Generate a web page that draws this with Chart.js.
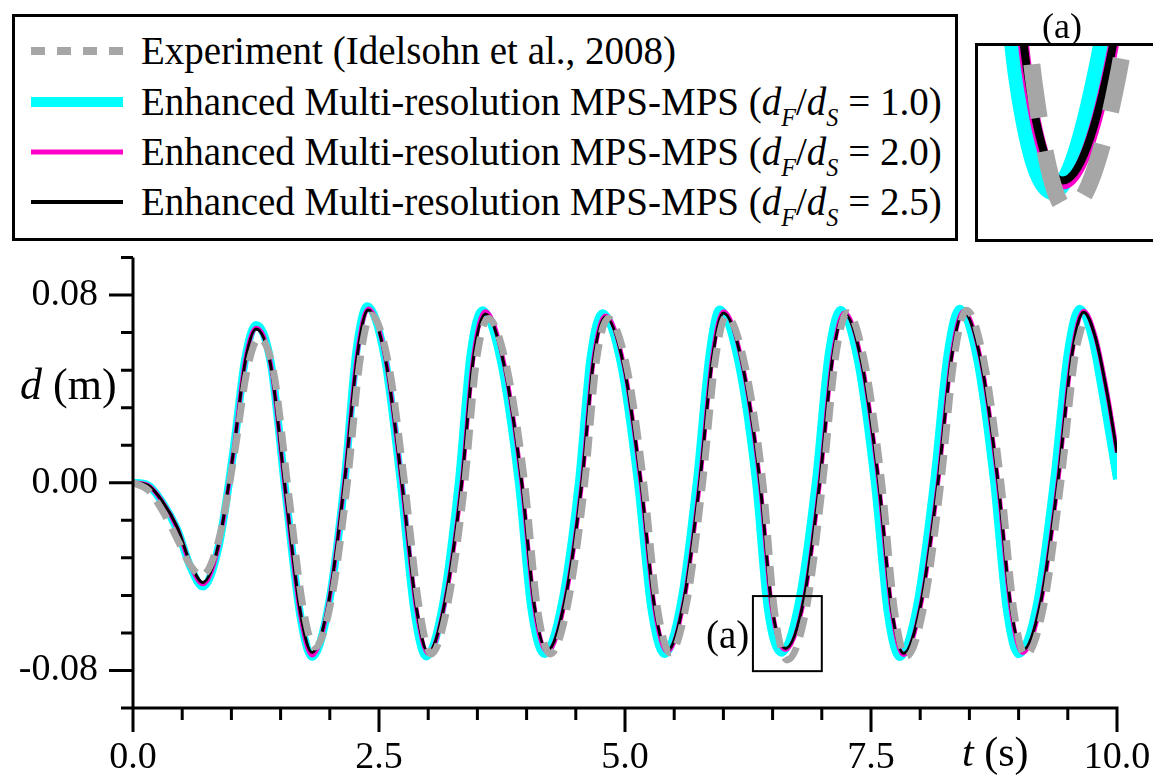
<!DOCTYPE html>
<html>
<head>
<meta charset="utf-8">
<script src="https://cdn.jsdelivr.net/npm/chart.js@4.4.0/dist/chart.umd.min.js"></script>
<style>
  body { margin: 0; background: #fff; }
  #page { position: relative; width: 1153px; height: 777px; overflow: hidden;
          font-family: "Liberation Serif", "Times New Roman", serif; color: #000; }
  #dispChart { position: absolute; left: 0; top: 0; }
  #legend { position: absolute; left: 12px; top: 14px; width: 946px; height: 227px;
            border: 3px solid #000; box-sizing: border-box; background: #fff; }
  .row { position: absolute; left: 0; width: 930px; height: 40px; font-size: 39px;
         line-height: 40px; white-space: nowrap; }
  .row svg { position: absolute; left: 16px; }
  .row .lbl { position: absolute; left: 126px; top: 0; }
  .row sub { font-size: 0.62em; font-style: italic; vertical-align: -0.45em; line-height: 0; }
  #inset { position: absolute; left: 975px; top: 43px; width: 200px; height: 199px;
           border: 3px solid #000; box-sizing: border-box; background: #fff; }
  #insetChart { position: absolute; left: 0; top: 0; }
  .txt { position: absolute; white-space: nowrap; line-height: 1; }
</style>
</head>
<body>
<div id="page">
  <canvas id="dispChart" width="1153" height="777"></canvas>

  <div id="legend">
    <div class="row" style="top:14px">
      <svg width="92" height="10" style="top:15px"><line x1="0" y1="5" x2="92" y2="5" stroke="#a6a6a6" stroke-width="8" stroke-dasharray="14 12"/></svg>
      <span class="lbl">Experiment (Idelsohn et al., 2008)</span>
    </div>
    <div class="row" style="top:65px">
      <svg width="92" height="10" style="top:15px"><line x1="0" y1="5" x2="92" y2="5" stroke="#00ffff" stroke-width="10"/></svg>
      <span class="lbl">Enhanced Multi-resolution MPS-MPS (<i>d</i><sub>F</sub>/<i>d</i><sub>S</sub> = 1.0)</span>
    </div>
    <div class="row" style="top:115px">
      <svg width="92" height="10" style="top:15px"><line x1="0" y1="5" x2="92" y2="5" stroke="#ff00cc" stroke-width="5"/></svg>
      <span class="lbl">Enhanced Multi-resolution MPS-MPS (<i>d</i><sub>F</sub>/<i>d</i><sub>S</sub> = 2.0)</span>
    </div>
    <div class="row" style="top:165px">
      <svg width="92" height="10" style="top:15px"><line x1="0" y1="5" x2="92" y2="5" stroke="#000" stroke-width="4"/></svg>
      <span class="lbl">Enhanced Multi-resolution MPS-MPS (<i>d</i><sub>F</sub>/<i>d</i><sub>S</sub> = 2.5)</span>
    </div>
  </div>

  <div class="txt" style="left:1042px; top:8px; font-size:36px">(a)</div>
  <div id="inset"><canvas id="insetChart" width="180" height="193"></canvas></div>

  <div class="txt" style="left:706px; top:615px; font-size:39px">(a)</div>
  <div class="txt" style="left:20px; top:363px; font-size:44px"><i>d</i> (m)</div>
  <div class="txt" style="left:962px; top:731px; font-size:42px"><i>t</i> (s)</div>
</div>

<script>
// time (s) and gate displacement d (m)
const tFine = [0, 0.15, 0.30, 0.45, 0.58, 0.71, 0.87, 1.02, 1.14, 1.25, 1.40, 1.55, 1.70,
  1.82, 1.99, 2.15, 2.28, 2.39, 2.57, 2.73, 2.88, 3.00, 3.17, 3.34, 3.46, 3.58, 3.77, 3.95,
  4.08, 4.21, 4.39, 4.56, 4.68, 4.80, 4.99, 5.16, 5.30, 5.43, 5.60, 5.76, 5.89, 6.00, 6.19,
  6.37, 6.49, 6.63, 6.82, 6.98, 7.11, 7.23, 7.41, 7.58, 7.71, 7.83, 8.01, 8.18, 8.32, 8.44,
  8.62, 8.79, 8.92, 9.04, 9.23, 9.40, 9.54, 9.66, 9.78, 9.90, 10.0];

const dRatio25 = [0.0000, -0.0010, -0.0080, -0.0190, -0.0340, -0.0425, -0.0263, 0.0130,
  0.0515, 0.0655, 0.0500, -0.0040, -0.0550, -0.0723, -0.0504, 0.0007, 0.0546, 0.0736,
  0.0517, 0.0007, -0.0533, -0.0723, -0.0507, -0.0002, 0.0532, 0.0719, 0.0504, 0.0003,
  -0.0528, -0.0714, -0.0501, -0.0004, 0.0521, 0.0706, 0.0493, 0.0006, -0.0529, -0.0714,
  -0.0498, 0.0005, 0.0536, 0.0723, 0.0509, 0.0009, -0.0520, -0.0706, -0.0492, 0.0007,
  0.0534, 0.0719, 0.0502, -0.0004, -0.0539, -0.0727, -0.0509, 0.0000, 0.0538, 0.0727,
  0.0511, 0.0006, -0.0527, -0.0714, -0.0498, 0.0007, 0.0540, 0.0727, 0.0620, 0.0380, 0.0128];

const dRatio20 = [0.0000, -0.0010, -0.0082, -0.0195, -0.0348, -0.0432, -0.0268, 0.0128,
  0.0518, 0.0660, 0.0505, -0.0042, -0.0560, -0.0735, -0.0510, 0.0005, 0.0552, 0.0742,
  0.0522, 0.0005, -0.0538, -0.0728, -0.0510, -0.0004, 0.0540, 0.0730, 0.0510, 0.0001,
  -0.0533, -0.0720, -0.0504, -0.0006, 0.0525, 0.0712, 0.0497, 0.0004, -0.0533, -0.0720,
  -0.0502, 0.0003, 0.0542, 0.0730, 0.0513, 0.0007, -0.0525, -0.0712, -0.0496, 0.0005,
  0.0538, 0.0724, 0.0506, -0.0006, -0.0544, -0.0733, -0.0513, -0.0002, 0.0542, 0.0732,
  0.0514, 0.0004, -0.0533, -0.0724, -0.0503, 0.0005, 0.0544, 0.0732, 0.0624, 0.0383, 0.0130];

const tRatio10 = [0, 0.15, 0.30, 0.45, 0.58, 0.71, 0.87, 1.02, 1.14, 1.25, 1.40, 1.55, 1.70,
  1.82, 1.99, 2.15, 2.27, 2.38, 2.56, 2.72, 2.86, 2.98, 3.15, 3.31, 3.43, 3.55, 3.74, 3.92,
  4.05, 4.18, 4.36, 4.53, 4.65, 4.77, 4.96, 5.13, 5.27, 5.40, 5.57, 5.73, 5.86, 5.96, 6.15,
  6.33, 6.45, 6.59, 6.77, 6.94, 7.07, 7.19, 7.37, 7.54, 7.67, 7.79, 7.97, 8.14, 8.28, 8.40,
  8.58, 8.75, 8.88, 9.00, 9.19, 9.36, 9.50, 9.62, 9.74, 9.87, 10.0];

const dRatio10 = [0.0000, -0.0010, -0.0085, -0.0200, -0.0355, -0.0442, -0.0272, 0.0135,
  0.0528, 0.0672, 0.0512, -0.0040, -0.0565, -0.0742, -0.0517, 0.0007, 0.0560, 0.0752,
  0.0530, 0.0007, -0.0546, -0.0740, -0.0520, -0.0002, 0.0545, 0.0735, 0.0516, 0.0003,
  -0.0541, -0.0730, -0.0513, -0.0004, 0.0534, 0.0722, 0.0505, 0.0006, -0.0542, -0.0730,
  -0.0510, 0.0005, 0.0549, 0.0738, 0.0521, 0.0009, -0.0533, -0.0724, -0.0504, 0.0007,
  0.0547, 0.0736, 0.0514, -0.0004, -0.0552, -0.0743, -0.0521, 0.0000, 0.0551, 0.0742,
  0.0523, 0.0006, -0.0540, -0.0730, -0.0510, 0.0007, 0.0553, 0.0742, 0.0630, 0.0340, 0.0015];

const tExp = [0, 0.15, 0.30, 0.45, 0.58, 0.70, 0.87, 1.03, 1.16, 1.28, 1.43, 1.58, 1.73,
  1.85, 2.02, 2.18, 2.31, 2.42, 2.60, 2.76, 2.91, 3.03, 3.20, 3.37, 3.49, 3.61, 3.80, 3.98,
  4.11, 4.24, 4.42, 4.59, 4.71, 4.83, 5.02, 5.19, 5.33, 5.46, 5.63, 5.79, 5.92, 6.03, 6.22,
  6.40, 6.52, 6.65, 6.85, 7.01, 7.14, 7.26, 7.44, 7.61, 7.74, 7.86, 8.04, 8.21, 8.35, 8.47,
  8.65, 8.82, 8.95, 9.07, 9.26, 9.43, 9.57, 9.65];

const dExp = [0.0000, -0.0030, -0.0120, -0.0240, -0.0350, -0.0395, -0.0245, 0.0120, 0.0480,
  0.0615, 0.0470, -0.0040, -0.0535, -0.0700, -0.0490, 0.0005, 0.0530, 0.0715, 0.0500,
  0.0000, -0.0535, -0.0730, -0.0515, -0.0005, 0.0520, 0.0700, 0.0490, 0.0000, -0.0535,
  -0.0730, -0.0515, -0.0005, 0.0520, 0.0700, 0.0490, 0.0000, -0.0535, -0.0725, -0.0505,
  0.0005, 0.0530, 0.0710, 0.0500, 0.0005, -0.0550, -0.0755, -0.0520, 0.0005, 0.0535,
  0.0725, 0.0505, -0.0005, -0.0550, -0.0740, -0.0520, 0.0000, 0.0545, 0.0735, 0.0515,
  0.0000, -0.0540, -0.0735, -0.0515, 0.0005, 0.0530, 0.0680];

const xTicks = [0, 2.5, 5, 7.5, 10];
const yTicks = [-0.08, 0, 0.08];
const xRange = [0, 10];
const yRange = [-0.096, 0.096];
// window (a), shown enlarged in the inset
const zoomT = [6.30, 7.00];
const zoomD = [-0.0803, -0.0483];

Chart.defaults.font.family = '"Liberation Serif", "Times New Roman", serif';
Chart.defaults.color = '#000';

function pts(ts, ds) {
  return ts.map((t, i) => ({ x: t, y: ds[i] }));
}

function seriesSets(w) {
  return [
    { label: 'Experiment (Idelsohn et al., 2008)', data: pts(tExp, dExp),
      borderColor: '#a6a6a6', borderWidth: w.exp, borderDash: w.dash, order: 0 },
    { label: 'dF/dS = 2.5', data: pts(tFine, dRatio25), borderColor: '#000000', borderWidth: w.r25, order: 1 },
    { label: 'dF/dS = 2.0', data: pts(tFine, dRatio20), borderColor: '#ff00cc', borderWidth: w.r20, order: 2 },
    { label: 'dF/dS = 1.0', data: pts(tRatio10, dRatio10), borderColor: '#00ffff', borderWidth: w.r10, order: 3 }
  ].map(s => Object.assign(s, {
    pointRadius: 0, fill: false, cubicInterpolationMode: 'monotone',
    borderCapStyle: 'butt', borderJoinStyle: 'round'
  }));
}

// axis lines, major/minor ticks and the (a) frame
const axisPlugin = {
  id: 'axisPlugin',
  afterDraw(chart) {
    const ctx = chart.ctx;
    const x = chart.scales.x, y = chart.scales.y;
    const x0 = x.getPixelForValue(xRange[0]), x1 = x.getPixelForValue(xRange[1]);
    const yTop = y.getPixelForValue(yRange[1]), yBot = y.getPixelForValue(yRange[0]);
    ctx.save();
    ctx.strokeStyle = '#000';
    ctx.lineWidth = 3;
    ctx.beginPath();
    ctx.moveTo(x0, yTop);
    ctx.lineTo(x0, yBot);
    ctx.moveTo(x0, yBot);
    ctx.lineTo(x1 + 1.5, yBot);
    for (let i = 0; i <= 20; i++) {
      const px = x.getPixelForValue(i * 0.5);
      ctx.moveTo(px, yBot);
      ctx.lineTo(px, yBot + (i % 5 === 0 ? 24 : 12));
    }
    for (let i = 0; i <= 12; i++) {
      const py = y.getPixelForValue(yRange[0] + i * 0.016);
      ctx.moveTo(x0, py);
      ctx.lineTo(x0 - (i % 5 === 1 ? 24 : 12), py);
    }
    ctx.stroke();

    const bx0 = x.getPixelForValue(zoomT[0]), bx1 = x.getPixelForValue(zoomT[1]);
    const by0 = y.getPixelForValue(zoomD[1]), by1 = y.getPixelForValue(zoomD[0]);
    ctx.lineWidth = 2;
    ctx.strokeRect(bx0, by0, bx1 - bx0, by1 - by0);
    ctx.restore();
  }
};

new Chart(document.getElementById('dispChart'), {
  type: 'line',
  data: { datasets: seriesSets({ exp: 7, dash: [20, 11], r25: 3, r20: 4.5, r10: 8 }) },
  options: {
    responsive: false,
    animation: false,
    events: [],
    layout: { padding: { top: 257.5, right: 36, bottom: 0, left: 0 } },
    plugins: { legend: { display: false }, tooltip: { enabled: false } },
    scales: {
      x: {
        type: 'linear', min: xRange[0], max: xRange[1],
        afterFit: s => { s.height = 69; s.paddingLeft = 0; s.paddingRight = 0; },
        afterBuildTicks: s => { s.ticks = xTicks.map(v => ({ value: v })); },
        grid: { display: false }, border: { display: false },
        ticks: { padding: 19, maxRotation: 0, autoSkip: false, font: { size: 38 },
                 callback: v => v.toFixed(1) }
      },
      y: {
        type: 'linear', min: yRange[0], max: yRange[1],
        afterFit: s => { s.width = 133; s.paddingTop = 0; s.paddingBottom = 0; },
        afterBuildTicks: s => { s.ticks = yTicks.map(v => ({ value: v })); },
        grid: { display: false }, border: { display: false },
        ticks: { padding: 27, autoSkip: false, font: { size: 38 },
                 callback: v => v.toFixed(2) }
      }
    }
  },
  plugins: [axisPlugin]
});

new Chart(document.getElementById('insetChart'), {
  type: 'line',
  data: { datasets: seriesSets({ exp: 17, dash: [54, 34], r25: 8, r20: 11, r10: 17 }) },
  options: {
    responsive: false,
    animation: false,
    events: [],
    layout: { padding: 0 },
    plugins: { legend: { display: false }, tooltip: { enabled: false } },
    scales: {
      x: { type: 'linear', display: false, min: zoomT[0], max: zoomT[1] },
      y: { type: 'linear', display: false, min: zoomD[0], max: zoomD[1] }
    }
  }
});
</script>
</body>
</html>
